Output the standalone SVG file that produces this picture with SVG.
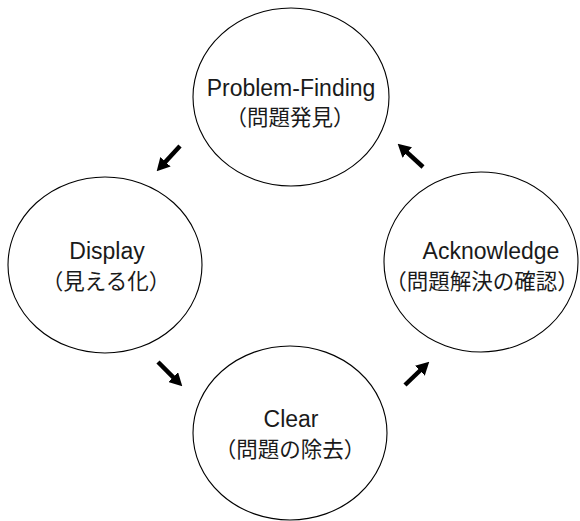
<svg xmlns="http://www.w3.org/2000/svg" width="580" height="521" viewBox="0 0 580 521">
<style>
.node ellipse{fill:#fff;stroke:#000;stroke-width:1.1}
.node text{font-family:"Liberation Sans","Noto Sans CJK JP",sans-serif;font-size:23px;fill:#1a1a1a;text-anchor:middle}
.node text .jp{font-family:"Noto Sans CJK JP",sans-serif;font-size:21.5px}
.conn line{stroke:#000;stroke-width:4.5;marker-end:url(#ah)}
</style>
<defs>
<marker id="ah" markerUnits="userSpaceOnUse" markerWidth="13" markerHeight="14" viewBox="0 0 13 14" refX="1" refY="7" orient="auto">
<path d="M0,0 L13,7 L0,14 z" fill="#000"/>
</marker>
</defs>
<rect width="580" height="521" fill="#fff"/>
<g id="problem-finding" class="node">
<ellipse cx="291" cy="97" rx="98" ry="89"/>
<text x="291" y="96">Problem-Finding<tspan class="jp" x="290" y="125">（問題発見）</tspan></text>
</g>
<g id="display" class="node">
<ellipse cx="105" cy="265" rx="97" ry="88"/>
<text x="107" y="259">Display<tspan class="jp" x="106" y="289">（見える化）</tspan></text>
</g>
<g id="acknowledge" class="node">
<ellipse cx="481" cy="262" rx="97" ry="90"/>
<text x="491" y="259">Acknowledge<tspan class="jp" x="482" y="289">（問題解決の確認）</tspan></text>
</g>
<g id="clear" class="node">
<ellipse cx="290" cy="433" rx="97" ry="87"/>
<text x="291" y="427">Clear<tspan class="jp" x="290" y="457">（問題の除去）</tspan></text>
</g>
<g id="connectors" class="conn">
<line x1="180" y1="146" x2="164.8" y2="162.5"/>
<line x1="423" y1="167" x2="406.5" y2="151.8"/>
<line x1="158" y1="362" x2="173.8" y2="377.8"/>
<line x1="405" y1="385" x2="420.6" y2="370"/>
</g>
</svg>
